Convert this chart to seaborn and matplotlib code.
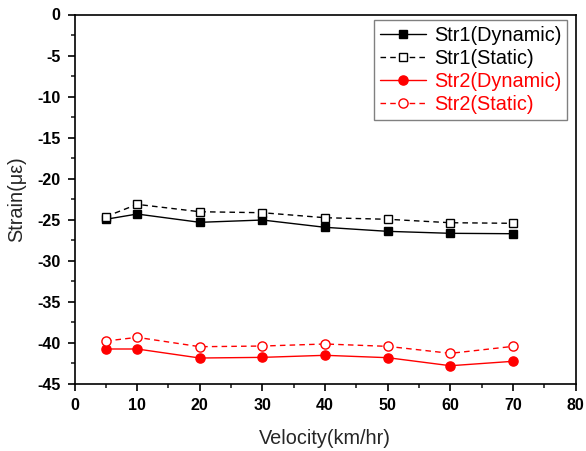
import matplotlib
matplotlib.use("Agg")
import matplotlib.pyplot as plt
from matplotlib.ticker import MultipleLocator
import numpy as np
import pandas as pd
import seaborn as sns

velocity = [5, 10, 20, 30, 40, 50, 60, 70]
str1_dynamic = [-24.96, -24.32, -25.33, -25.05, -25.94, -26.43, -26.67, -26.72]
str1_static = [-24.64, -23.14, -24.04, -24.16, -24.77, -24.96, -25.38, -25.45]
str2_dynamic = [-40.77, -40.77, -41.87, -41.79, -41.54, -41.83, -42.81, -42.27]
str2_static = [-39.80, -39.35, -40.49, -40.41, -40.16, -40.45, -41.30, -40.45]

series_names = ["Str1(Dynamic)", "Str1(Static)", "Str2(Dynamic)", "Str2(Static)"]
series_values = [str1_dynamic, str1_static, str2_dynamic, str2_static]

sns.set_theme(style="ticks")
plt.rcParams["font.family"] = ["Liberation Sans", "DejaVu Sans"]
plt.rcParams["axes.unicode_minus"] = False

df = pd.DataFrame({
    "Velocity": np.tile(velocity, len(series_names)),
    "Strain": np.concatenate(series_values),
    "Series": np.repeat(series_names, len(velocity)),
})

styles = {
    "Str1(Dynamic)": dict(color="black", ls="-", marker="s", mfc="black", ms=5.6),
    "Str1(Static)": dict(color="black", ls=(0, (4, 3)), marker="s", mfc="white", ms=5.6),
    "Str2(Dynamic)": dict(color="red", ls="-", marker="o", mfc="red", ms=6.6),
    "Str2(Static)": dict(color="red", ls=(0, (4, 3)), marker="o", mfc="white", ms=6.6),
}

fig = plt.figure(figsize=(5.86, 4.51), dpi=100)
ax = fig.add_axes([74.5 / 586, 1 - 383.7 / 451, (575.7 - 74.5) / 586, (383.7 - 14.5) / 451])

for name in series_names:
    st = styles[name]
    sub = df[df["Series"] == name]
    sns.lineplot(data=sub, x="Velocity", y="Strain", ax=ax, label=name,
                 color=st["color"], linestyle=st["ls"], linewidth=1.0,
                 marker=st["marker"], markersize=st["ms"],
                 markerfacecolor=st["mfc"], markeredgecolor=st["color"],
                 markeredgewidth=1.0)

ax.set_xlim(0, 80)
ax.set_ylim(-45, 0)
ax.xaxis.set_major_locator(MultipleLocator(10))
ax.xaxis.set_minor_locator(MultipleLocator(5))
ax.yaxis.set_major_locator(MultipleLocator(5))
ax.yaxis.set_minor_locator(MultipleLocator(2.5))
ax.tick_params(which="major", direction="out", length=5, width=1.2, colors="black",
               labelsize=11.5, pad=5, top=False, right=False)
ax.tick_params(which="minor", direction="out", length=3, width=1.2, top=False, right=False)
for lbl in ax.get_xticklabels() + ax.get_yticklabels():
    lbl.set_fontweight("bold")
for sp in ax.spines.values():
    sp.set_linewidth(1.2)
    sp.set_color("black")

ax.set_xlabel("Velocity(km/hr)", fontsize=14.3, labelpad=12)
ax.set_ylabel("Strain(\u03bc\u03b5)", fontsize=14.3, labelpad=8)

leg = ax.legend(loc="upper right", bbox_to_anchor=(0.983, 0.985), borderaxespad=0,
                fontsize=14.3, frameon=True, fancybox=False, edgecolor="#808080",
                framealpha=1, handlelength=2.3, handletextpad=0.4, borderpad=0.3,
                labelspacing=0.2, labelcolor="linecolor")
leg.get_frame().set_linewidth(1.0)

fig.savefig("out.png", dpi=100)
